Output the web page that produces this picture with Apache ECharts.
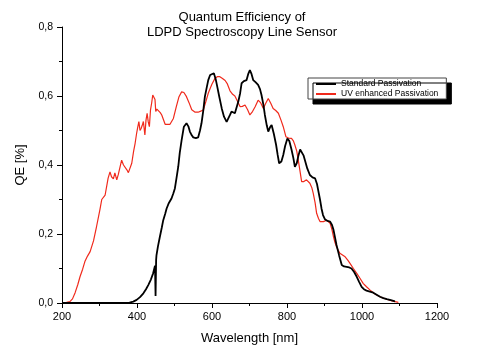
<!DOCTYPE html>
<html>
<head>
<meta charset="utf-8">
<script src="https://cdn.jsdelivr.net/npm/echarts@6/dist/echarts.min.js"></script>
<style>
html,body{margin:0;padding:0;background:#fff;}
#chart{width:484px;height:355px;}
</style>
</head>
<body>
<div id="chart"></div>
<script>
var titleLines = ['Quantum Efficiency of', 'LDPD Spectroscopy Line Sensor'];
var seriesNames = ['Standard Passivation', 'UV enhanced Passivation'];
var xTicks = [200, 400, 600, 800, 1000, 1200];
var yTicks = [0, 0.2, 0.4, 0.6, 0.8];

var stdWl = [200,300,380,390,399,408,417,424,430,437,443,448,449,449.5,450.5,451,452,456,461,466,470,475,479,485,492,497,501,505,510,514,519,525,532,537,541,546,550,557,563,568,572,577,581,586,590,595,599,605,610,614,619,626,632,639,643,648,652,657,661,666,670,675,679,685,692,697,701,705,710,716,723,728,732,737,741,746,750,755,759,765,771,775,779,785,790,795,801,806,812,817,821,826,830,835,839,844,848,854,861,868,875,880,883,888,892,896,901,908,915,920,924,928,932,939,946,952,959,966,972,979,986,992,999,1005,1012,1021,1030,1039,1048,1057,1066,1077,1088];
var stdQE = [0,0,0.001,0.004,0.009,0.017,0.028,0.04,0.052,0.068,0.086,0.108,0.112,0.02,0.02,0.125,0.139,0.165,0.192,0.218,0.24,0.258,0.274,0.29,0.303,0.318,0.332,0.36,0.395,0.435,0.472,0.511,0.521,0.512,0.497,0.486,0.48,0.478,0.48,0.5,0.521,0.56,0.598,0.625,0.646,0.661,0.666,0.666,0.648,0.627,0.6,0.564,0.54,0.525,0.53,0.545,0.555,0.56,0.55,0.555,0.583,0.608,0.637,0.643,0.646,0.665,0.675,0.665,0.646,0.64,0.632,0.62,0.603,0.575,0.545,0.515,0.497,0.51,0.516,0.49,0.458,0.43,0.405,0.41,0.429,0.455,0.477,0.47,0.445,0.42,0.395,0.405,0.425,0.445,0.443,0.428,0.413,0.39,0.371,0.364,0.361,0.345,0.328,0.3,0.274,0.255,0.243,0.238,0.236,0.226,0.212,0.19,0.168,0.138,0.11,0.106,0.105,0.103,0.1,0.09,0.076,0.062,0.047,0.04,0.036,0.033,0.03,0.024,0.018,0.014,0.011,0.008,0.005];

var uvWl = [200,212,221,228,235,242,248,255,261,268,275,284,292,301,306,315,323,328,332,337,341,346,350,355,359,364,368,373,377,381,386,391,395,399,402,405,408,411,414,417,421,424,427,430,433,436,439,442,446,448,450,453,457,462,466,475,479,488,497,505,512,519,525,532,539,546,555,563,570,577,584,590,595,600,608,614,621,628,635,641,648,655,661,668,675,681,688,695,701,708,715,723,730,737,743,750,757,763,770,777,784,790,797,804,812,817,821,826,830,835,839,845,852,857,861,866,870,875,879,884,888,897,906,911,915,920,924,928,932,937,941,948,955,962,968,977,986,995,1003,1012,1021,1030,1039,1052,1066,1080,1097];
var uvQE = [0,0.002,0.004,0.012,0.03,0.053,0.076,0.098,0.12,0.136,0.149,0.18,0.221,0.27,0.3,0.313,0.362,0.38,0.366,0.36,0.377,0.357,0.372,0.395,0.414,0.4,0.395,0.386,0.378,0.376,0.405,0.44,0.463,0.492,0.51,0.526,0.5,0.506,0.515,0.526,0.487,0.53,0.55,0.525,0.511,0.56,0.579,0.603,0.608,0.59,0.555,0.562,0.56,0.552,0.545,0.518,0.513,0.518,0.535,0.57,0.598,0.612,0.61,0.598,0.58,0.56,0.553,0.553,0.556,0.56,0.585,0.608,0.622,0.635,0.651,0.656,0.656,0.651,0.645,0.635,0.615,0.605,0.6,0.585,0.569,0.57,0.574,0.56,0.545,0.555,0.569,0.588,0.58,0.564,0.578,0.593,0.578,0.564,0.558,0.55,0.53,0.511,0.482,0.478,0.477,0.47,0.458,0.44,0.415,0.38,0.352,0.352,0.357,0.354,0.347,0.335,0.318,0.29,0.26,0.245,0.236,0.236,0.24,0.236,0.231,0.212,0.192,0.175,0.163,0.152,0.144,0.139,0.134,0.124,0.115,0.1,0.086,0.071,0.057,0.047,0.038,0.03,0.023,0.016,0.011,0.006,0.002];

function zip(a, b) { return a.map(function (v, i) { return [v, b[i]]; }); }

var FONT = '"Liberation Sans", Arial, sans-serif';
var chart = echarts.init(document.getElementById('chart'), null, {renderer: 'canvas'});
chart.setOption({
  backgroundColor: '#ffffff',
  animation: false,
  title: {
    text: titleLines.join('\n'),
    left: 'center',
    top: 5,
    textStyle: {fontFamily: FONT, fontSize: 13, fontWeight: 'normal', color: '#000', lineHeight: 15}
  },
  legend: {
    orient: 'vertical',
    left: 308,
    top: 78,
    padding: [1, 8, 0, 8],
    itemGap: 0,
    itemWidth: 20,
    itemHeight: 2,
    icon: 'rect',
    backgroundColor: '#fff',
    borderColor: '#444',
    borderWidth: 1,
    borderRadius: 0,
    shadowColor: '#000',
    shadowBlur: 0,
    shadowOffsetX: 5,
    shadowOffsetY: 5,
    textStyle: {fontFamily: FONT, fontSize: 8.5, color: '#000', lineHeight: 10},
    data: seriesNames
  },
  grid: {left: 62, right: 47, top: 27, bottom: 52},
  xAxis: {
    type: 'value',
    min: xTicks[0],
    max: xTicks[xTicks.length - 1],
    interval: 200,
    name: 'Wavelength [nm]',
    nameLocation: 'middle',
    nameGap: 29,
    nameTextStyle: {fontFamily: FONT, fontSize: 13, color: '#000'},
    axisLine: {show: true, lineStyle: {color: '#000', width: 1}},
    axisTick: {show: true, inside: false, length: 5, lineStyle: {color: '#000'}},
    minorTick: {show: true, splitNumber: 2, length: 3, lineStyle: {color: '#000'}},
    splitLine: {show: false},
    axisLabel: {
      fontFamily: FONT, fontSize: 11, color: '#000', margin: 8,
      formatter: function (v) { return String(v); }
    }
  },
  yAxis: {
    type: 'value',
    min: yTicks[0],
    max: yTicks[yTicks.length - 1],
    interval: 0.2,
    name: 'QE [%]',
    nameLocation: 'middle',
    nameGap: 35,
    nameTextStyle: {fontFamily: FONT, fontSize: 13, color: '#000'},
    axisLine: {show: true, lineStyle: {color: '#000', width: 1}},
    axisTick: {show: true, inside: false, length: 5, lineStyle: {color: '#000'}},
    minorTick: {show: true, splitNumber: 2, length: 3, lineStyle: {color: '#000'}},
    splitLine: {show: false},
    axisLabel: {
      fontFamily: FONT, fontSize: 10.5, color: '#000', margin: 9,
      formatter: function (v) { return v.toFixed(1).replace('.', ','); }
    }
  },
  series: [
    {
      name: seriesNames[0], type: 'line', data: zip(stdWl, stdQE),
      showSymbol: false, smooth: false, z: 3,
      lineStyle: {color: '#000', width: 1.8}, itemStyle: {color: '#000'}
    },
    {
      name: seriesNames[1], type: 'line', data: zip(uvWl, uvQE),
      showSymbol: false, smooth: false, z: 2,
      lineStyle: {color: '#f02a1c', width: 1.2}, itemStyle: {color: '#f02a1c'}
    }
  ]
});
</script>
</body>
</html>
